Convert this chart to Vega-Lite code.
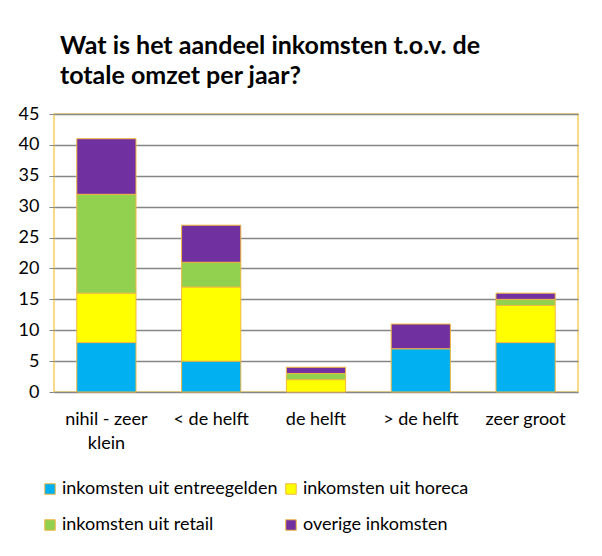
{
  "$schema": "https://vega.github.io/schema/vega-lite/v6.json",
  "width": 524,
  "height": 278,
  "autosize": {"type": "none"},
  "padding": {"left": 54, "top": 114, "right": 24, "bottom": 164},
  "background": "white",
  "title": {
    "text": ["Wat is het aandeel inkomsten t.o.v. de", "totale omzet per jaar?"],
    "anchor": "start",
    "frame": "group",
    "dx": 6,
    "offset": 16,
    "font": "Lato",
    "fontSize": 25,
    "fontWeight": "bold",
    "color": "black",
    "lineHeight": 30
  },
  "data": {
    "values": [
      {"cat": "nihil - zeer klein", "serie": "inkomsten uit entreegelden", "k": 1, "v": 8},
      {"cat": "nihil - zeer klein", "serie": "inkomsten uit horeca", "k": 2, "v": 8},
      {"cat": "nihil - zeer klein", "serie": "inkomsten uit retail", "k": 3, "v": 16},
      {"cat": "nihil - zeer klein", "serie": "overige inkomsten", "k": 4, "v": 9},
      {"cat": "< de helft", "serie": "inkomsten uit entreegelden", "k": 1, "v": 5},
      {"cat": "< de helft", "serie": "inkomsten uit horeca", "k": 2, "v": 12},
      {"cat": "< de helft", "serie": "inkomsten uit retail", "k": 3, "v": 4},
      {"cat": "< de helft", "serie": "overige inkomsten", "k": 4, "v": 6},
      {"cat": "de helft", "serie": "inkomsten uit entreegelden", "k": 1, "v": 0},
      {"cat": "de helft", "serie": "inkomsten uit horeca", "k": 2, "v": 2},
      {"cat": "de helft", "serie": "inkomsten uit retail", "k": 3, "v": 1},
      {"cat": "de helft", "serie": "overige inkomsten", "k": 4, "v": 1},
      {"cat": "> de helft", "serie": "inkomsten uit entreegelden", "k": 1, "v": 7},
      {"cat": "> de helft", "serie": "inkomsten uit horeca", "k": 2, "v": 0},
      {"cat": "> de helft", "serie": "inkomsten uit retail", "k": 3, "v": 0},
      {"cat": "> de helft", "serie": "overige inkomsten", "k": 4, "v": 4},
      {"cat": "zeer groot", "serie": "inkomsten uit entreegelden", "k": 1, "v": 8},
      {"cat": "zeer groot", "serie": "inkomsten uit horeca", "k": 2, "v": 6},
      {"cat": "zeer groot", "serie": "inkomsten uit retail", "k": 3, "v": 1},
      {"cat": "zeer groot", "serie": "overige inkomsten", "k": 4, "v": 1}
    ]
  },
  "transform": [{"filter": "datum.v > 0"}],
  "mark": {"type": "bar", "stroke": "#F0B840", "strokeWidth": 1},
  "encoding": {
    "x": {
      "field": "cat",
      "type": "nominal",
      "sort": ["nihil - zeer klein", "< de helft", "de helft", "> de helft", "zeer groot"],
      "scale": {"paddingInner": 0.435, "paddingOuter": 0.2175},
      "axis": {
        "title": null,
        "labelAngle": 0,
        "labelExpr": "datum.value == 'nihil - zeer klein' ? ['nihil - zeer', 'klein'] : datum.value",
        "labelFont": "Lato",
        "labelFontSize": 18,
        "labelColor": "black",
        "labelPadding": 18,
        "labelLineHeight": 24,
        "ticks": false,
        "domain": false
      }
    },
    "y": {
      "field": "v",
      "type": "quantitative",
      "stack": "zero",
      "scale": {"domain": [0, 45], "nice": false},
      "axis": {
        "title": null,
        "values": [0, 5, 10, 15, 20, 25, 30, 35, 40, 45],
        "labelFont": "Lato",
        "labelFontSize": 18,
        "labelColor": "black",
        "labelPadding": 10,
        "ticks": true,
        "tickSize": 5,
        "tickColor": "#868686",
        "grid": true,
        "gridColor": "#868686",
        "gridWidth": 1.3,
        "domain": false
      }
    },
    "order": {"field": "k", "type": "quantitative", "sort": "ascending"},
    "color": {
      "field": "serie",
      "type": "nominal",
      "scale": {
        "domain": ["inkomsten uit entreegelden", "inkomsten uit horeca", "inkomsten uit retail", "overige inkomsten"],
        "range": ["#00B0F0", "#FFFF00", "#92D050", "#7030A0"]
      },
      "legend": {
        "title": null,
        "orient": "none",
        "legendX": -13,
        "legendY": 366,
        "direction": "horizontal",
        "columns": 2,
        "columnPadding": 4,
        "rowPadding": 18,
        "symbolType": "square",
        "symbolSize": 110,
        "symbolStrokeColor": "#F0B840",
        "symbolStrokeWidth": 1,
        "labelFont": "Lato",
        "labelFontSize": 18,
        "labelColor": "black",
        "labelOffset": 3,
        "labelLimit": 300
      }
    }
  },
  "config": {
    "view": {"stroke": "#F5D060", "strokeWidth": 1.5}
  }
}
